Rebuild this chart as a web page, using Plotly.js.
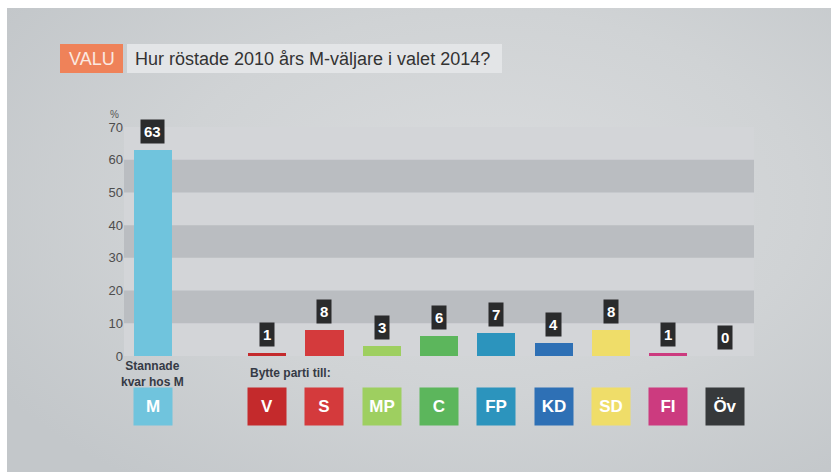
<!DOCTYPE html>
<html>
<head>
<meta charset="utf-8">
<script src="https://cdn.plot.ly/plotly-3.0.1.min.js"></script>
<style>
  html, body { margin:0; padding:0; background:#ffffff; }
  #bg { position:absolute; left:7px; top:8px; width:824px; height:464px;
        background: radial-gradient(ellipse 70% 75% at 58% 42%, #dadcde 0%, #d0d3d5 55%, #c3c7ca 100%); }
  #chart { position:absolute; left:0; top:0; width:831px; height:472px; }
</style>
</head>
<body>
<div id="bg"></div>
<div id="chart"></div>
<script>
// ---- data ----
const categories = ['M', 'V', 'S', 'MP', 'C', 'FP', 'KD', 'SD', 'FI', 'Öv'];
const values = [63, 1, 8, 3, 6, 7, 4, 8, 1, 0];
const colors = ['#70c4dd', '#c42a2c', '#d43a3c', '#9ecf60', '#5cb65c', '#2c94bd', '#2e70b5', '#efdd69', '#cc3b7f', '#36393b'];
const yTicks = [0, 10, 20, 30, 40, 50, 60, 70];
const titleText = 'Hur röstade 2010 års M-väljare i valet 2014?';
const tagText = 'VALU';
const stayLabel = 'Stannade<br>kvar hos M';
const switchLabel = 'Bytte parti till:';

// slot positions: first category alone, then a gap, then the switchers
const xpos = categories.map((c, i) => (i === 0 ? 0 : i + 1));

const FONT = 'Liberation Sans, Arial, Helvetica, sans-serif';
const BW = 0.665;

const trace = {
  type: 'bar',
  x: xpos,
  y: values,
  width: BW,
  marker: { color: colors, line: { width: 0 } },
  hoverinfo: 'skip'
};

const shapes = [];
// dark bands
[[10, 20], [30, 40], [50, 60]].forEach(b => {
  shapes.push({ type: 'rect', xref: 'paper', yref: 'y', x0: 0, x1: 1, y0: b[0], y1: b[1],
    fillcolor: '#babdc1', line: { width: 0 }, layer: 'below' });
});
// title boxes
shapes.push({ type: 'rect', xref: 'paper', yref: 'paper', x0: (60 - 124) / 630, x1: (123 - 124) / 630,
  y0: (356 - 73) / 229, y1: (356 - 44) / 229, fillcolor: '#ef8259', line: { width: 0 } });
shapes.push({ type: 'rect', xref: 'paper', yref: 'paper', x0: (127 - 124) / 630, x1: (502 - 124) / 630,
  y0: (356 - 73) / 229, y1: (356 - 44) / 229, fillcolor: '#e3e5e7', line: { width: 0 } });

const annotations = [];
// value labels
values.forEach((v, i) => {
  annotations.push({
    x: xpos[i], y: v, xref: 'x', yref: 'y', yanchor: 'bottom', yshift: 6,
    text: '<b>' + v + '</b>', showarrow: false,
    bgcolor: '#2a2b2c', borderpad: 3,
    font: { family: FONT, size: 15, color: '#ffffff' }
  });
});
// party boxes below
categories.forEach((c, i) => {
  annotations.push({
    x: xpos[i], y: (356 - 406) / 229, xref: 'x', yref: 'paper', xanchor: 'center', yanchor: 'middle',
    text: '<b>' + c + '</b>', showarrow: false,
    width: 38, height: 37, borderpad: 0, bgcolor: colors[i],
    font: { family: FONT, size: 17, color: '#ffffff' }
  });
});
annotations.push({
  x: xpos[0], y: (356 - 357) / 229, xref: 'x', yref: 'paper', xanchor: 'center', yanchor: 'top',
  text: '<b>' + stayLabel + '</b>', showarrow: false, align: 'center',
  font: { family: FONT, size: 12, color: '#353a45' }
});
annotations.push({
  x: xpos[1] - BW / 2, y: (356 - 373) / 229, xref: 'x', yref: 'paper', xanchor: 'left', yanchor: 'middle',
  text: '<b>' + switchLabel + '</b>', showarrow: false,
  font: { family: FONT, size: 12, color: '#353a45' }
});
annotations.push({
  x: (108 - 124) / 630, y: 70, xref: 'paper', yref: 'y', xanchor: 'left', yanchor: 'bottom', yshift: 5,
  text: '%', showarrow: false, font: { family: FONT, size: 10, color: '#555555' }
});
annotations.push({
  x: (91.5 - 124) / 630, y: (356 - 58.5) / 229, xref: 'paper', yref: 'paper', xanchor: 'center', yanchor: 'middle',
  text: tagText, showarrow: false, font: { family: FONT, size: 18, color: '#fbe9e0' }
});

const layout = {
  width: 831, height: 472,
  margin: { l: 124, r: 77, t: 127, b: 116 },
  paper_bgcolor: 'rgba(0,0,0,0)',
  plot_bgcolor: '#d3d5d8',
  showlegend: false,
  title: {
    text: titleText, x: 135 / 831, xanchor: 'left', xref: 'container',
    y: 1 - 59 / 472, yanchor: 'middle', yref: 'container',
    font: { family: FONT, size: 18, color: '#333333' }
  },
  xaxis: { range: [-0.5, 10.5], showticklabels: false, showgrid: false, zeroline: false, showline: false, fixedrange: true },
  yaxis: {
    range: [0, 70], tickvals: yTicks, ticktext: yTicks.map(String),
    showgrid: false, zeroline: false, showline: false, ticks: '',
    tickfont: { family: FONT, size: 13, color: '#4d4d4d' }, fixedrange: true
  },
  shapes: shapes,
  annotations: annotations,
  bargap: 0
};

Plotly.newPlot('chart', [trace], layout, { displayModeBar: false, staticPlot: true });
</script>
</body>
</html>
